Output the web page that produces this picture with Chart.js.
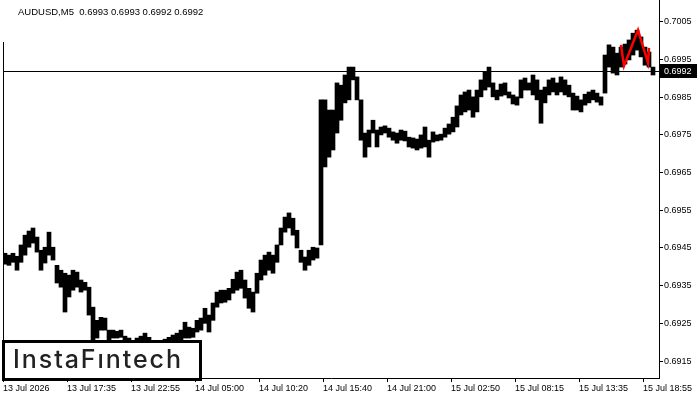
<!DOCTYPE html>
<html>
<head>
<meta charset="utf-8">
<script src="https://cdn.jsdelivr.net/npm/chart.js@4.4.1/dist/chart.umd.min.js"></script>
<style>
  body { margin: 0; background: #fff; }
  canvas { display: block; }
</style>
</head>
<body>
<canvas id="chart" width="700" height="400"></canvas>
<script>
const symbolTitle = "AUDUSD,M5";
const lastQuote = ["0.6993", "0.6993", "0.6992", "0.6992"];
const lastClose = 0.6992;

const timeLabels = ["13 Jul 2026", "13 Jul 17:35", "13 Jul 22:55", "14 Jul 05:00", "14 Jul 10:20",
  "14 Jul 15:40", "14 Jul 21:00", "15 Jul 02:50", "15 Jul 08:15", "15 Jul 13:35", "15 Jul 18:55"];
const timeTickBars = [0, 64, 128, 192, 256, 320, 384, 448, 512, 576, 640];
const priceTicks = [0.6915, 0.6925, 0.6935, 0.6945, 0.6955, 0.6965, 0.6975, 0.6985, 0.6995, 0.7005];

// one entry per 4 five-minute bars: highest high and lowest low of the block
const blockHighs = [
  0.69436, 0.69431, 0.69436, 0.69428, 0.69458, 0.69484, 0.69495, 0.69503, 0.69479, 0.69444,
  0.69452, 0.69492, 0.69452, 0.69404, 0.69391, 0.69383, 0.69378, 0.69391, 0.69386, 0.69365,
  0.69359, 0.69346, 0.69293, 0.69258, 0.69266, 0.69264, 0.69232, 0.69232, 0.69229, 0.69232,
  0.69216, 0.69211, 0.69205, 0.69211, 0.69216, 0.69224, 0.69213, 0.69205, 0.69200, 0.69203,
  0.69208, 0.69213, 0.69219, 0.69224, 0.69232, 0.69253, 0.69240, 0.69237, 0.69258, 0.69264,
  0.69290, 0.69272, 0.69304, 0.69333, 0.69338, 0.69338, 0.69343, 0.69367, 0.69386, 0.69391,
  0.69365, 0.69343, 0.69333, 0.69383, 0.69418, 0.69431, 0.69439, 0.69431, 0.69458, 0.69503,
  0.69532, 0.69543, 0.69529, 0.69497, 0.69444, 0.69426, 0.69444, 0.69452, 0.69450, 0.69843,
  0.69843, 0.69816, 0.69816, 0.69888, 0.69882, 0.69909, 0.69930, 0.69930, 0.69904, 0.69843,
  0.69755, 0.69763, 0.69789, 0.69763, 0.69771, 0.69774, 0.69768, 0.69758, 0.69755, 0.69763,
  0.69760, 0.69744, 0.69742, 0.69739, 0.69750, 0.69771, 0.69736, 0.69758, 0.69750, 0.69752,
  0.69768, 0.69779, 0.69797, 0.69827, 0.69856, 0.69864, 0.69869, 0.69851, 0.69869, 0.69896,
  0.69917, 0.69930, 0.69888, 0.69869, 0.69885, 0.69888, 0.69864, 0.69856, 0.69851, 0.69896,
  0.69901, 0.69888, 0.69909, 0.69896, 0.69869, 0.69877, 0.69896, 0.69901, 0.69888, 0.69904,
  0.69896, 0.69882, 0.69861, 0.69853, 0.69843, 0.69858, 0.69864, 0.69869, 0.69861, 0.69851,
  0.69962, 0.69989, 0.69983, 0.69967, 0.69983, 0.69991, 0.70002, 0.70020, 0.70028, 0.70010,
  0.69983, 0.69970, 0.69930
];
const blockLows = [
  0.69407, 0.69404, 0.69412, 0.69391, 0.69412, 0.69431, 0.69452, 0.69463, 0.69439, 0.69391,
  0.69410, 0.69431, 0.69418, 0.69357, 0.69346, 0.69280, 0.69320, 0.69338, 0.69346, 0.69333,
  0.69338, 0.69272, 0.69205, 0.69211, 0.69232, 0.69232, 0.69205, 0.69211, 0.69211, 0.69213,
  0.69189, 0.69184, 0.69179, 0.69181, 0.69189, 0.69192, 0.69187, 0.69173, 0.69168, 0.69173,
  0.69179, 0.69187, 0.69192, 0.69197, 0.69203, 0.69211, 0.69211, 0.69213, 0.69227, 0.69232,
  0.69250, 0.69227, 0.69258, 0.69293, 0.69304, 0.69306, 0.69312, 0.69330, 0.69338, 0.69343,
  0.69317, 0.69290, 0.69280, 0.69330, 0.69365, 0.69378, 0.69391, 0.69383, 0.69412, 0.69458,
  0.69492, 0.69503, 0.69484, 0.69450, 0.69412, 0.69391, 0.69404, 0.69418, 0.69423, 0.69458,
  0.69665, 0.69691, 0.69710, 0.69755, 0.69789, 0.69835, 0.69843, 0.69896, 0.69843, 0.69736,
  0.69691, 0.69718, 0.69755, 0.69718, 0.69750, 0.69755, 0.69744, 0.69736, 0.69728, 0.69736,
  0.69734, 0.69718, 0.69715, 0.69710, 0.69715, 0.69718, 0.69691, 0.69731, 0.69734, 0.69736,
  0.69744, 0.69752, 0.69758, 0.69771, 0.69803, 0.69811, 0.69816, 0.69797, 0.69811, 0.69851,
  0.69869, 0.69877, 0.69851, 0.69843, 0.69853, 0.69856, 0.69848, 0.69832, 0.69829, 0.69848,
  0.69869, 0.69869, 0.69856, 0.69843, 0.69781, 0.69835, 0.69856, 0.69864, 0.69856, 0.69864,
  0.69856, 0.69851, 0.69816, 0.69816, 0.69811, 0.69829, 0.69835, 0.69843, 0.69837, 0.69829,
  0.69861, 0.69930, 0.69914, 0.69909, 0.69930, 0.69938, 0.69949, 0.69962, 0.69975, 0.69957,
  0.69935, 0.69930, 0.69909
];
const barsPerBlock = 4;

// detected pattern (red zigzag)
const patternBars = [618, 621, 635, 645, 646];
const patternPrices = [0.69989, 0.69933, 0.70028, 0.69941, 0.69981];

const blocks = blockHighs.map((h, i) => ({
  x: i * barsPerBlock + barsPerBlock / 2,
  y: [blockLows[i], h]
}));
const pattern = patternBars.map((b, i) => ({ x: b, y: patternPrices[i] }));

Chart.defaults.font.family = "'Liberation Sans', Arial, sans-serif";
Chart.defaults.font.size = 9;
Chart.defaults.color = "#000";

const overlay = {
  id: "overlay",
  afterDraw(chart) {
    const { ctx, chartArea } = chart;
    const y = chart.scales.y;
    ctx.save();

    // left frame line
    ctx.strokeStyle = "#000";
    ctx.lineWidth = 1;
    ctx.beginPath();
    ctx.moveTo(chartArea.left + 0.5, chartArea.top + 42);
    ctx.lineTo(chartArea.left + 0.5, chartArea.bottom);
    ctx.stroke();

    // current price line and label
    const py = Math.round(y.getPixelForValue(lastClose)) + 0.5;
    ctx.beginPath();
    ctx.moveTo(chartArea.left, py);
    ctx.lineTo(chartArea.right, py);
    ctx.stroke();
    ctx.fillStyle = "#000";
    ctx.fillRect(chartArea.right + 1, py - 7.5, 37, 14);
    ctx.fillStyle = "#fff";
    ctx.font = "9px 'Liberation Sans'";
    ctx.textBaseline = "middle";
    ctx.textAlign = "left";
    ctx.fillText(lastClose.toFixed(4), chartArea.right + 5, py);

    // title
    ctx.fillStyle = "#000";
    ctx.font = "9.5px 'Liberation Sans'";
    ctx.fillText(symbolTitle + "  " + lastQuote.join(" "), chartArea.left + 15, 12);

    // logo box
    ctx.fillStyle = "#fff";
    ctx.fillRect(chartArea.left, chartArea.bottom - 37, 198, 37);
    ctx.lineWidth = 3;
    ctx.strokeRect(chartArea.left + 0.5, chartArea.bottom - 36.5, 197, 38);
    ctx.fillStyle = "#222";
    ctx.font = "500 25px Inter";
    ctx.textBaseline = "alphabetic";
    const txt = "InstaF\u0131ntech";
    const w = ctx.measureText(txt).width;
    ctx.letterSpacing = Math.max(0, (168 - w) / 11) + "px";
    ctx.fillText(txt, chartArea.left + 10, chartArea.bottom - 10);
    ctx.restore();
  }
};

new Chart(document.getElementById("chart"), {
  data: {
    datasets: [
      {
        type: "line",
        data: pattern,
        borderColor: "#ff0000",
        borderWidth: 2.5,
        pointRadius: 0,
        order: 0
      },
      {
        type: "bar",
        data: blocks,
        backgroundColor: "#000",
        borderWidth: 0,
        barPercentage: 1,
        categoryPercentage: 1,
        order: 1
      }
    ]
  },
  options: {
    responsive: false,
    animation: false,
    layout: { padding: { left: 3, top: 0, right: 0, bottom: 0 } },
    plugins: { legend: { display: false }, tooltip: { enabled: false } },
    scales: {
      x: {
        type: "linear",
        offset: false,
        min: 0,
        max: 656,
        afterBuildTicks: (s) => { s.ticks = timeTickBars.map((v) => ({ value: v })); },
        afterFit: (s) => { s.height = 22; s.paddingLeft = 0; s.paddingRight = 0; },
        ticks: {
          align: "start",
          autoSkip: false,
          maxRotation: 0,
          padding: 1,
          callback: (v, i) => timeLabels[i]
        },
        grid: { offset: false, drawOnChartArea: false, tickLength: 4, color: "#000" },
        border: { color: "#000" }
      },
      y: {
        position: "right",
        min: 0.69105,
        max: 0.70108,
        afterBuildTicks: (s) => { s.ticks = priceTicks.map((v) => ({ value: v })); },
        afterFit: (s) => { s.width = 41; s.paddingTop = 0; s.paddingBottom = 0; },
        ticks: { padding: 1, callback: (v) => v.toFixed(4) },
        grid: { drawOnChartArea: false, tickLength: 4, color: "#000" },
        border: { color: "#000" }
      }
    }
  },
  plugins: [overlay]
});
</script>
</body>
</html>
